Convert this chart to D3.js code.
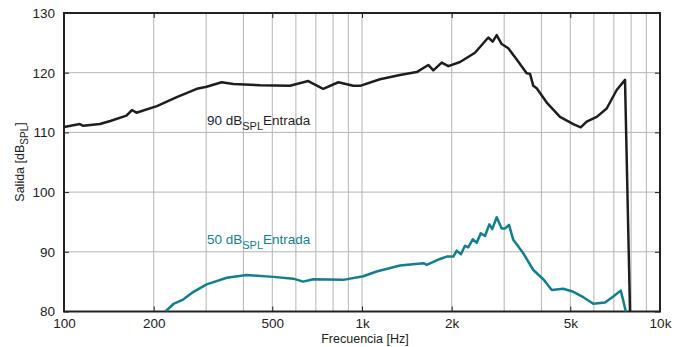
<!DOCTYPE html>
<html>
<head>
<meta charset="utf-8">
<script src="https://cdn.jsdelivr.net/npm/d3@7"></script>
<style>
  body { margin: 0; background: #fff; }
  svg text { font-family: "Liberation Sans", Arial, sans-serif; }
</style>
</head>
<body>
<div id="main"></div>
<script>
// 90 dB SPL input curve (frequency Hz, output dB SPL)
const freq90 = [100, 113, 116, 132, 143, 162, 169, 175, 205, 239, 279, 301, 338, 370, 455, 573, 660, 741, 833, 935,
  985, 1149, 1341, 1526, 1669, 1735, 1851, 1949, 2133, 2394, 2653, 2745, 2831, 2943, 3097, 3305, 3570, 3663,
  3757, 3857, 4167, 4618, 5117, 5420, 5675, 6133, 6624, 7156, 7631, 7940];
const out90 = [110.9, 111.4, 111.1, 111.4, 111.9, 112.8, 113.75, 113.3, 114.4, 115.9, 117.3, 117.65, 118.4, 118.1,
  117.9, 117.8, 118.6, 117.3, 118.4, 117.8, 117.8, 118.9, 119.6, 120.1, 121.3, 120.4, 121.7, 121.1, 121.8, 123.35,
  125.9, 125.2, 126.3, 124.8, 124.1, 122.2, 119.9, 119.8, 117.8, 117.4, 115.0, 112.6, 111.4, 110.85, 111.8, 112.6,
  114.0, 117.1, 118.8, 79.0];

// 50 dB SPL input curve
const freq50 = [219, 233, 251, 272, 301, 352, 410, 504, 588, 635, 686, 865, 1010, 1120, 1341, 1606, 1649, 1827,
  1924, 2025, 2078, 2148, 2216, 2274, 2353, 2427, 2503, 2587, 2675, 2737, 2831, 2943, 3020, 3114, 3219, 3477,
  3757, 4059, 4333, 4737, 5117, 5529, 5973, 6538, 6971, 7382, 7497, 7720];
const out50 = [80.0, 81.26, 82.0, 83.3, 84.55, 85.66, 86.1, 85.8, 85.5, 85.0, 85.4, 85.3, 85.9, 86.7, 87.7, 88.1,
  87.8, 88.8, 89.2, 89.2, 90.2, 89.6, 91.0, 90.75, 92.1, 91.5, 93.1, 92.65, 94.6, 93.8, 95.8, 93.9, 93.9, 94.5,
  92.0, 89.75, 86.95, 85.4, 83.6, 83.8, 83.3, 82.4, 81.3, 81.5, 82.5, 83.5, 82.2, 79.5];

const xTicks = [100, 200, 500, 1000, 2000, 5000, 10000];
const xTickLabels = ['100', '200', '500', '1k', '2k', '5k', '10k'];
const yTicks = [80, 90, 100, 110, 120, 130];
const xGrid = [100, 200, 300, 400, 500, 600, 700, 800, 900, 1000, 2000, 3000, 4000, 5000, 6000, 7000, 8000, 9000, 10000];

const W = 682, H = 347;
const mLeft = 64, mRight = 660, mTop = 13, mBottom = 311.5;

const svg = d3.select('#main').append('svg')
  .attr('width', W)
  .attr('height', H);

const x = d3.scaleLog().domain([100, 10000]).range([mLeft, mRight]);
const y = d3.scaleLinear().domain([80, 130]).range([mBottom, mTop]);

// grid
svg.append('g')
  .selectAll('line')
  .data(xGrid.slice(1, -1))
  .enter()
  .append('line')
    .attr('x1', d => x(d)).attr('x2', d => x(d))
    .attr('y1', mTop).attr('y2', mBottom)
    .attr('stroke', '#b4b4b4')
    .attr('stroke-width', 1);

svg.append('g')
  .selectAll('line')
  .data(yTicks.slice(1, -1))
  .enter()
  .append('line')
    .attr('x1', mLeft).attr('x2', mRight)
    .attr('y1', d => y(d)).attr('y2', d => y(d))
    .attr('stroke', '#b4b4b4')
    .attr('stroke-width', 1);

// axes with inward ticks
const tickLen = 5;
const bottomAxis = d3.axisBottom(x).tickValues(xTicks).tickFormat((d, i) => xTickLabels[i])
  .tickSizeInner(-tickLen).tickSizeOuter(0).tickPadding(7);
const gx = svg.append('g').attr('transform', `translate(0,${mBottom})`).call(bottomAxis);

const topAxis = d3.axisTop(x).tickValues(xTicks).tickFormat('').tickSizeInner(-tickLen).tickSizeOuter(0);
const gxt = svg.append('g').attr('transform', `translate(0,${mTop})`).call(topAxis);

const leftAxis = d3.axisLeft(y).tickValues(yTicks).tickSizeInner(-tickLen).tickSizeOuter(0).tickPadding(9);
const gy = svg.append('g').attr('transform', `translate(${mLeft},0)`).call(leftAxis);

const rightAxis = d3.axisRight(y).tickValues(yTicks).tickFormat('').tickSizeInner(-tickLen).tickSizeOuter(0);
const gyr = svg.append('g').attr('transform', `translate(${mRight},0)`).call(rightAxis);

[gx, gxt, gy, gyr].forEach(g => {
  g.select('.domain').remove();
  g.selectAll('line').attr('stroke', '#222').attr('stroke-width', 1);
  g.selectAll('text').attr('font-size', 13.5).attr('fill', '#222')
    .style('font-family', '"Liberation Sans", Arial, sans-serif');
});

// frame
svg.append('rect')
  .attr('x', mLeft).attr('y', mTop)
  .attr('width', mRight - mLeft).attr('height', mBottom - mTop)
  .attr('fill', 'none')
  .attr('stroke', '#222')
  .attr('stroke-width', 2);

// clip
svg.append('clipPath').attr('id', 'plotclip')
  .append('rect')
    .attr('x', mLeft).attr('y', mTop)
    .attr('width', mRight - mLeft).attr('height', mBottom - mTop);

const line = d3.line().x(d => x(d[0])).y(d => y(d[1]));

svg.append('path')
  .datum(d3.zip(freq50, out50))
  .attr('clip-path', 'url(#plotclip)')
  .attr('d', line)
  .attr('fill', 'none')
  .attr('stroke', '#127f8e')
  .attr('stroke-width', 2.5)
  .attr('stroke-linejoin', 'round');

svg.append('path')
  .datum(d3.zip(freq90, out90))
  .attr('clip-path', 'url(#plotclip)')
  .attr('d', line)
  .attr('fill', 'none')
  .attr('stroke', '#1e1e1e')
  .attr('stroke-width', 2.5)
  .attr('stroke-linejoin', 'round');

// annotations
function label(yPos, prefix, color) {
  const t = svg.append('text')
    .attr('x', 207).attr('y', yPos)
    .attr('font-size', 13.5)
    .attr('fill', color);
  t.append('tspan').text(prefix + ' dB');
  t.append('tspan').attr('dy', 5).attr('font-size', 11).text('SPL');
  t.append('tspan').attr('dy', -5).text('Entrada');
}
label(125, '90', '#1e1e1e');
label(244, '50', '#127f8e');

// axis titles
const yt = svg.append('text')
  .attr('transform', 'translate(24,162) rotate(-90)')
  .attr('text-anchor', 'middle')
  .attr('font-size', 12.5)
  .attr('fill', '#222');
yt.append('tspan').text('Salida [dB');
yt.append('tspan').attr('dy', 4).attr('font-size', 10).text('SPL');
yt.append('tspan').attr('dy', -4).text(']');

svg.append('text')
  .attr('x', 365).attr('y', 343)
  .attr('text-anchor', 'middle')
  .attr('font-size', 12.5)
  .attr('fill', '#222')
  .text('Frecuencia [Hz]');
</script>
</body>
</html>
